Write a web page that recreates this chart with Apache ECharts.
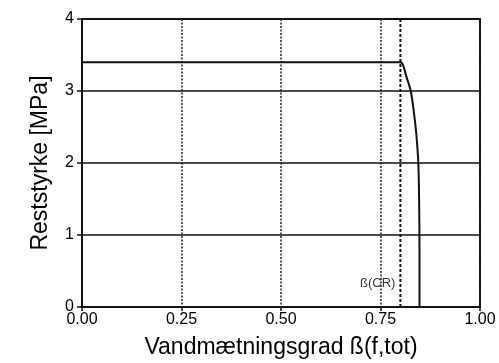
<!DOCTYPE html>
<html>
<head>
<meta charset="utf-8">
<script src="https://cdn.jsdelivr.net/npm/echarts@6/dist/echarts.min.js"></script>
<style>
  html, body { margin: 0; padding: 0; background: #fff; }
  #chart { width: 499px; height: 363px; }
</style>
</head>
<body>
<div id="chart"></div>
<script>
// Residual strength vs. degree of water saturation
const saturation = [0.00, 0.80, 0.806, 0.815, 0.826, 0.834, 0.840, 0.845, 0.847, 0.848, 0.848];
const strength   = [3.40, 3.40, 3.37, 3.20, 3.00, 2.70, 2.40, 2.00, 1.50, 0.70, 0.00];

// Critical saturation marker
const criticalSat = 0.80;
const criticalLabel = 'ß(CR)';
const criticalLabelY = 0.33;

const xTicks = [0, 0.25, 0.5, 0.75, 1.0];
const yTicks = [0, 1, 2, 3, 4];

const font = 'Liberation Sans, Arial, Helvetica, sans-serif';

const chart = echarts.init(document.getElementById('chart'));
chart.setOption({
  backgroundColor: '#ffffff',
  animation: false,
  grid: {
    left: 82, right: 19, top: 19, bottom: 56,
    containLabel: false,
    outerBoundsMode: 'none',
    show: true, borderColor: '#111', borderWidth: 2
  },
  xAxis: {
    type: 'value',
    min: xTicks[0], max: xTicks[xTicks.length - 1], interval: 0.25,
    name: 'Vandmætningsgrad ß(f,tot)',
    nameLocation: 'middle', nameGap: 29,
    nameTextStyle: { fontFamily: font, fontSize: 23, color: '#000' },
    axisLine: { show: true, lineStyle: { color: '#111', width: 2 } },
    axisTick: { show: true, length: 4, lineStyle: { color: '#111', width: 1.5 } },
    axisLabel: {
      fontFamily: font, fontSize: 16, color: '#000', margin: 5,
      formatter: v => v.toFixed(2)
    },
    splitLine: { show: true, lineStyle: { color: '#222', width: 1.5, type: [2, 1.5] } }
  },
  yAxis: {
    type: 'value',
    min: yTicks[0], max: yTicks[yTicks.length - 1], interval: 1,
    name: 'Reststyrke [MPa]',
    nameLocation: 'middle', nameGap: 30,
    nameTextStyle: { fontFamily: font, fontSize: 23, color: '#000' },
    axisLine: { show: true, lineStyle: { color: '#111', width: 2 } },
    axisTick: { show: true, length: 5, lineStyle: { color: '#111', width: 1.5 } },
    axisLabel: { fontFamily: font, fontSize: 16, color: '#000', margin: 8 },
    splitLine: { show: true, lineStyle: { color: '#111', width: 1.6 } }
  },
  series: [
    {
      type: 'line',
      data: saturation.map((x, i) => [x, strength[i]]),
      symbol: 'none',
      smooth: 0.3,
      lineStyle: { color: '#111', width: 2 },
      z: 5
    },
    {
      type: 'line',
      data: [[criticalSat, 0], [criticalSat, 4]],
      symbol: 'none',
      lineStyle: { color: '#111', width: 2, type: [3, 2] },
      z: 4
    },
    {
      type: 'scatter',
      data: [[criticalSat, criticalLabelY]],
      symbolSize: 0,
      label: {
        show: true, position: 'left', distance: 5,
        formatter: criticalLabel,
        fontFamily: font, fontSize: 13, color: '#000'
      },
      z: 6
    }
  ]
});
</script>
</body>
</html>
